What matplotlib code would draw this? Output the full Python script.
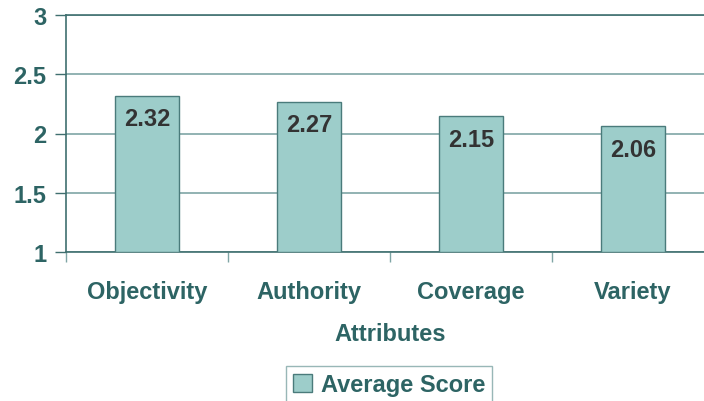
import matplotlib
matplotlib.use("Agg")
import matplotlib.pyplot as plt
import numpy as np

# data
categories = ["Objectivity", "Authority", "Coverage", "Variety"]
scores = [2.32, 2.27, 2.15, 2.06]
y_ticks = [1, 1.5, 2, 2.5, 3]
y_tick_labels = ["1", "1.5", "2", "2.5", "3"]

TEXT = "#2d6464"
GRID = "#7fa5a5"
AXIS = "#3f6f6f"
BAR = "#9dcdca"
BAR_EDGE = "#4a7b7b"
FS = 17

plt.rcParams["font.family"] = ["Liberation Sans", "DejaVu Sans"]
plt.rcParams["font.weight"] = "bold"

fig = plt.figure(figsize=(7.04, 4.02), dpi=100)
W, H = 704, 402
ax = fig.add_axes([66 / W, 1 - 253 / H, 648 / W, 237 / H])

x = np.arange(len(categories))
ax.bar(x, [s - 1 for s in scores], bottom=1, width=0.4, color=BAR,
       edgecolor=BAR_EDGE, linewidth=1, zorder=3)

for xi, s in zip(x, scores):
    ax.annotate(f"{s:.2f}", (xi, s), xytext=(0, -8.5), textcoords="offset points",
                ha="center", va="top", fontsize=FS, fontweight="bold",
                color="#333333", zorder=4)

ax.set_xlim(-0.5, 3.5)
ax.set_ylim(1, 3)
ax.set_yticks(y_ticks)
ax.set_yticklabels(y_tick_labels)
ax.set_xticks(x)
ax.set_xticklabels(categories)
ax.set_xticks(np.arange(-0.5, 4, 1), minor=True)

ax.yaxis.grid(True, color=GRID, linewidth=1.2, zorder=0)
ax.tick_params(axis="y", length=8, width=1, color=AXIS, labelsize=FS,
               labelcolor=TEXT, pad=6)
ax.tick_params(axis="x", which="major", length=0, labelsize=FS,
               labelcolor=TEXT, pad=20)
ax.tick_params(axis="x", which="minor", length=7, width=1, color=GRID)

for side in ["left", "bottom", "top"]:
    ax.spines[side].set_color(AXIS)
    ax.spines[side].set_linewidth(1.2)
ax.spines["right"].set_visible(False)

ax.set_xlabel("Attributes", fontsize=FS, fontweight="bold", color=TEXT, labelpad=14)

leg = fig.legend(handles=[plt.Rectangle((0, 0), 1, 1, facecolor=BAR, edgecolor=BAR_EDGE)],
                 labels=["Average Score"], loc="center", bbox_to_anchor=(389 / W, 1 - 386 / H),
                 fontsize=FS, frameon=True, fancybox=False, handlelength=0.8,
                 handleheight=0.8, handletextpad=0.4, borderpad=0.3)
leg.get_frame().set_edgecolor(GRID)
leg.get_frame().set_linewidth(1)
for t in leg.get_texts():
    t.set_color(TEXT)
    t.set_fontweight("bold")

fig.savefig("out.png", dpi=100)
